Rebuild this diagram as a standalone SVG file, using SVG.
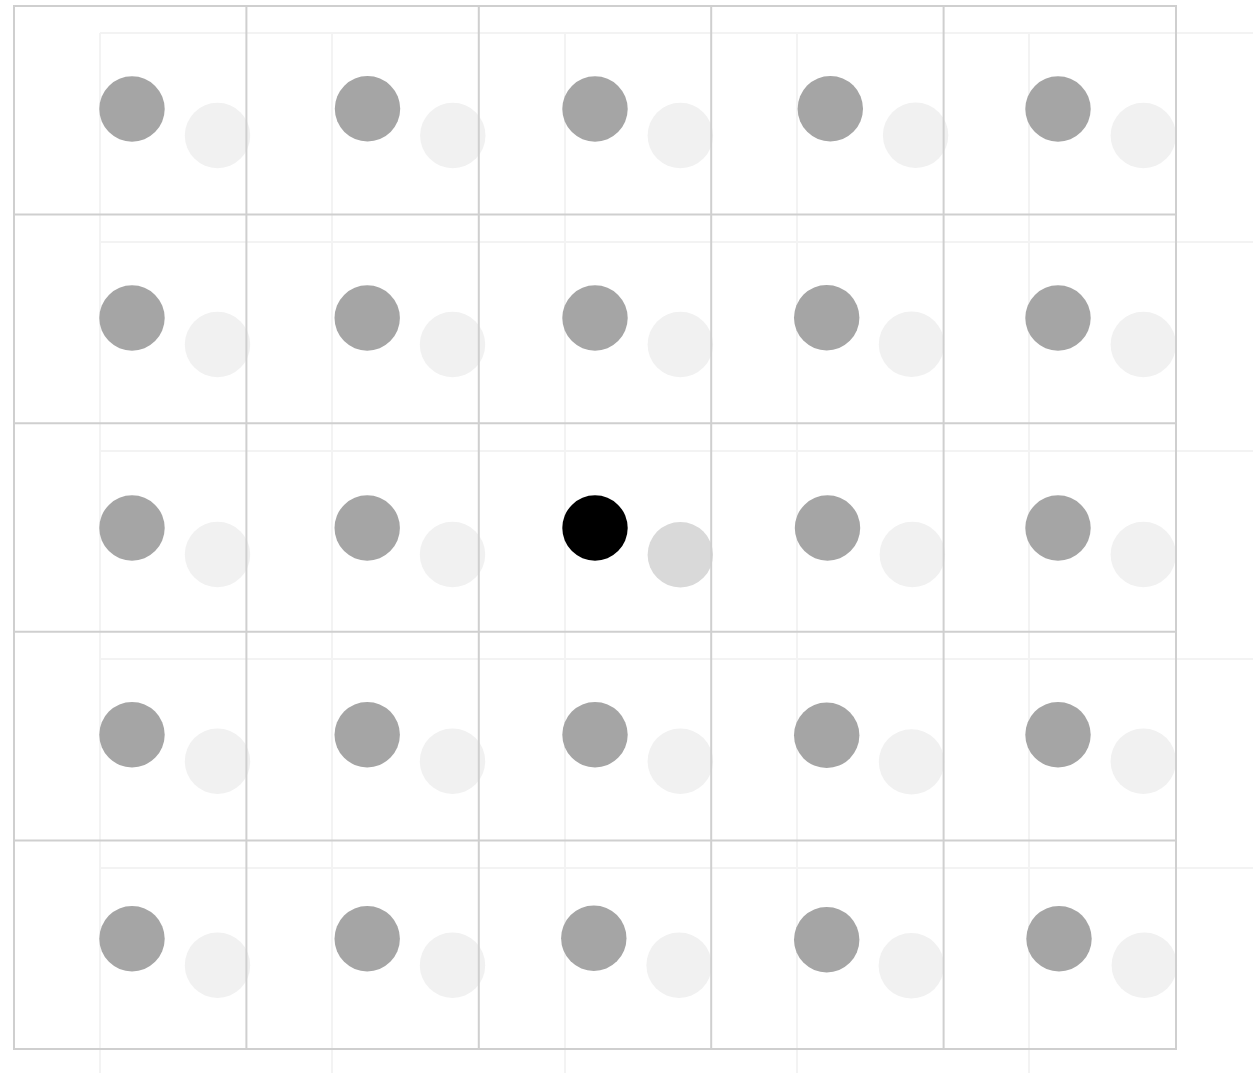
<svg xmlns="http://www.w3.org/2000/svg" width="1253" height="1073" viewBox="0 0 1253 1073">
<style>
.faint{stroke:#f3f3f3;stroke-width:2;fill:none}
.grid{stroke:#cfcfcf;stroke-width:2;fill:none}
.ghost{fill:#f1f1f1}
.ghost-sel{fill:#d9d9d9}
.dot{fill:#a5a5a5}
.dot-sel{fill:#000000}
</style>
<rect width="1253" height="1073" fill="#ffffff"/>
<g id="ghost-grid" class="faint">
<line x1="100" y1="33" x2="100" y2="1073"/>
<line x1="332" y1="33" x2="332" y2="1073"/>
<line x1="565" y1="33" x2="565" y2="1073"/>
<line x1="797" y1="33" x2="797" y2="1073"/>
<line x1="1029" y1="33" x2="1029" y2="1073"/>
<line x1="100" y1="33" x2="1253" y2="33"/>
<line x1="100" y1="242" x2="1253" y2="242"/>
<line x1="100" y1="451" x2="1253" y2="451"/>
<line x1="100" y1="659" x2="1253" y2="659"/>
<line x1="100" y1="868" x2="1253" y2="868"/>
</g>
<g id="ghost-dots">
<circle class="ghost" cx="217.5" cy="135.5" r="32.7"/>
<circle class="ghost" cx="452.8" cy="135.5" r="32.7"/>
<circle class="ghost" cx="680.3" cy="135.5" r="32.7"/>
<circle class="ghost" cx="915.6" cy="135.3" r="32.7"/>
<circle class="ghost" cx="1143.3" cy="135.5" r="32.7"/>
<circle class="ghost" cx="217.5" cy="344.5" r="32.7"/>
<circle class="ghost" cx="452.5" cy="344.5" r="32.7"/>
<circle class="ghost" cx="680.3" cy="344.5" r="32.7"/>
<circle class="ghost" cx="911.5" cy="344.3" r="32.7"/>
<circle class="ghost" cx="1143.3" cy="344.5" r="32.7"/>
<circle class="ghost" cx="217.5" cy="554.5" r="32.7"/>
<circle class="ghost" cx="452.5" cy="554.5" r="32.7"/>
<circle class="ghost-sel" cx="680.3" cy="554.7" r="32.7"/>
<circle class="ghost" cx="912.3" cy="554.5" r="32.7"/>
<circle class="ghost" cx="1143.3" cy="554.5" r="32.7"/>
<circle class="ghost" cx="217.5" cy="761.2" r="32.7"/>
<circle class="ghost" cx="452.5" cy="761.2" r="32.7"/>
<circle class="ghost" cx="680.3" cy="761.2" r="32.7"/>
<circle class="ghost" cx="911.5" cy="761.9" r="32.7"/>
<circle class="ghost" cx="1143.3" cy="761.2" r="32.7"/>
<circle class="ghost" cx="217.5" cy="965.2" r="32.7"/>
<circle class="ghost" cx="452.5" cy="965.2" r="32.7"/>
<circle class="ghost" cx="679.1" cy="965.2" r="32.7"/>
<circle class="ghost" cx="911.3" cy="965.8" r="32.7"/>
<circle class="ghost" cx="1144.3" cy="965.2" r="32.7"/>
</g>
<g id="grid" class="grid">
<rect x="14" y="6" width="1162" height="1043"/>
<line x1="246.4" y1="6" x2="246.4" y2="1049"/>
<line x1="478.8" y1="6" x2="478.8" y2="1049"/>
<line x1="711.2" y1="6" x2="711.2" y2="1049"/>
<line x1="943.6" y1="6" x2="943.6" y2="1049"/>
<line x1="14" y1="214.6" x2="1176" y2="214.6"/>
<line x1="14" y1="423.2" x2="1176" y2="423.2"/>
<line x1="14" y1="631.8" x2="1176" y2="631.8"/>
<line x1="14" y1="840.4" x2="1176" y2="840.4"/>
</g>
<g id="dots">
<circle class="dot" cx="132" cy="109" r="32.7"/>
<circle class="dot" cx="367.5" cy="108.8" r="32.7"/>
<circle class="dot" cx="595" cy="109" r="32.7"/>
<circle class="dot" cx="830.3" cy="108.7" r="32.7"/>
<circle class="dot" cx="1058" cy="109" r="32.7"/>
<circle class="dot" cx="132" cy="318" r="32.7"/>
<circle class="dot" cx="367.2" cy="318" r="32.7"/>
<circle class="dot" cx="595" cy="318" r="32.7"/>
<circle class="dot" cx="826.7" cy="317.7" r="32.7"/>
<circle class="dot" cx="1058" cy="318" r="32.7"/>
<circle class="dot" cx="132" cy="528" r="32.7"/>
<circle class="dot" cx="367.2" cy="528" r="32.7"/>
<circle class="dot-sel" cx="595" cy="528" r="32.7"/>
<circle class="dot" cx="827.5" cy="528" r="32.7"/>
<circle class="dot" cx="1058" cy="528" r="32.7"/>
<circle class="dot" cx="132" cy="734.7" r="32.7"/>
<circle class="dot" cx="367.2" cy="734.7" r="32.7"/>
<circle class="dot" cx="595" cy="734.7" r="32.7"/>
<circle class="dot" cx="826.7" cy="735.3" r="32.7"/>
<circle class="dot" cx="1058" cy="734.7" r="32.7"/>
<circle class="dot" cx="132" cy="938.7" r="32.7"/>
<circle class="dot" cx="367.2" cy="938.7" r="32.7"/>
<circle class="dot" cx="593.8" cy="938.2" r="32.7"/>
<circle class="dot" cx="826.7" cy="939.7" r="32.7"/>
<circle class="dot" cx="1059" cy="938.7" r="32.7"/>
</g>
</svg>
